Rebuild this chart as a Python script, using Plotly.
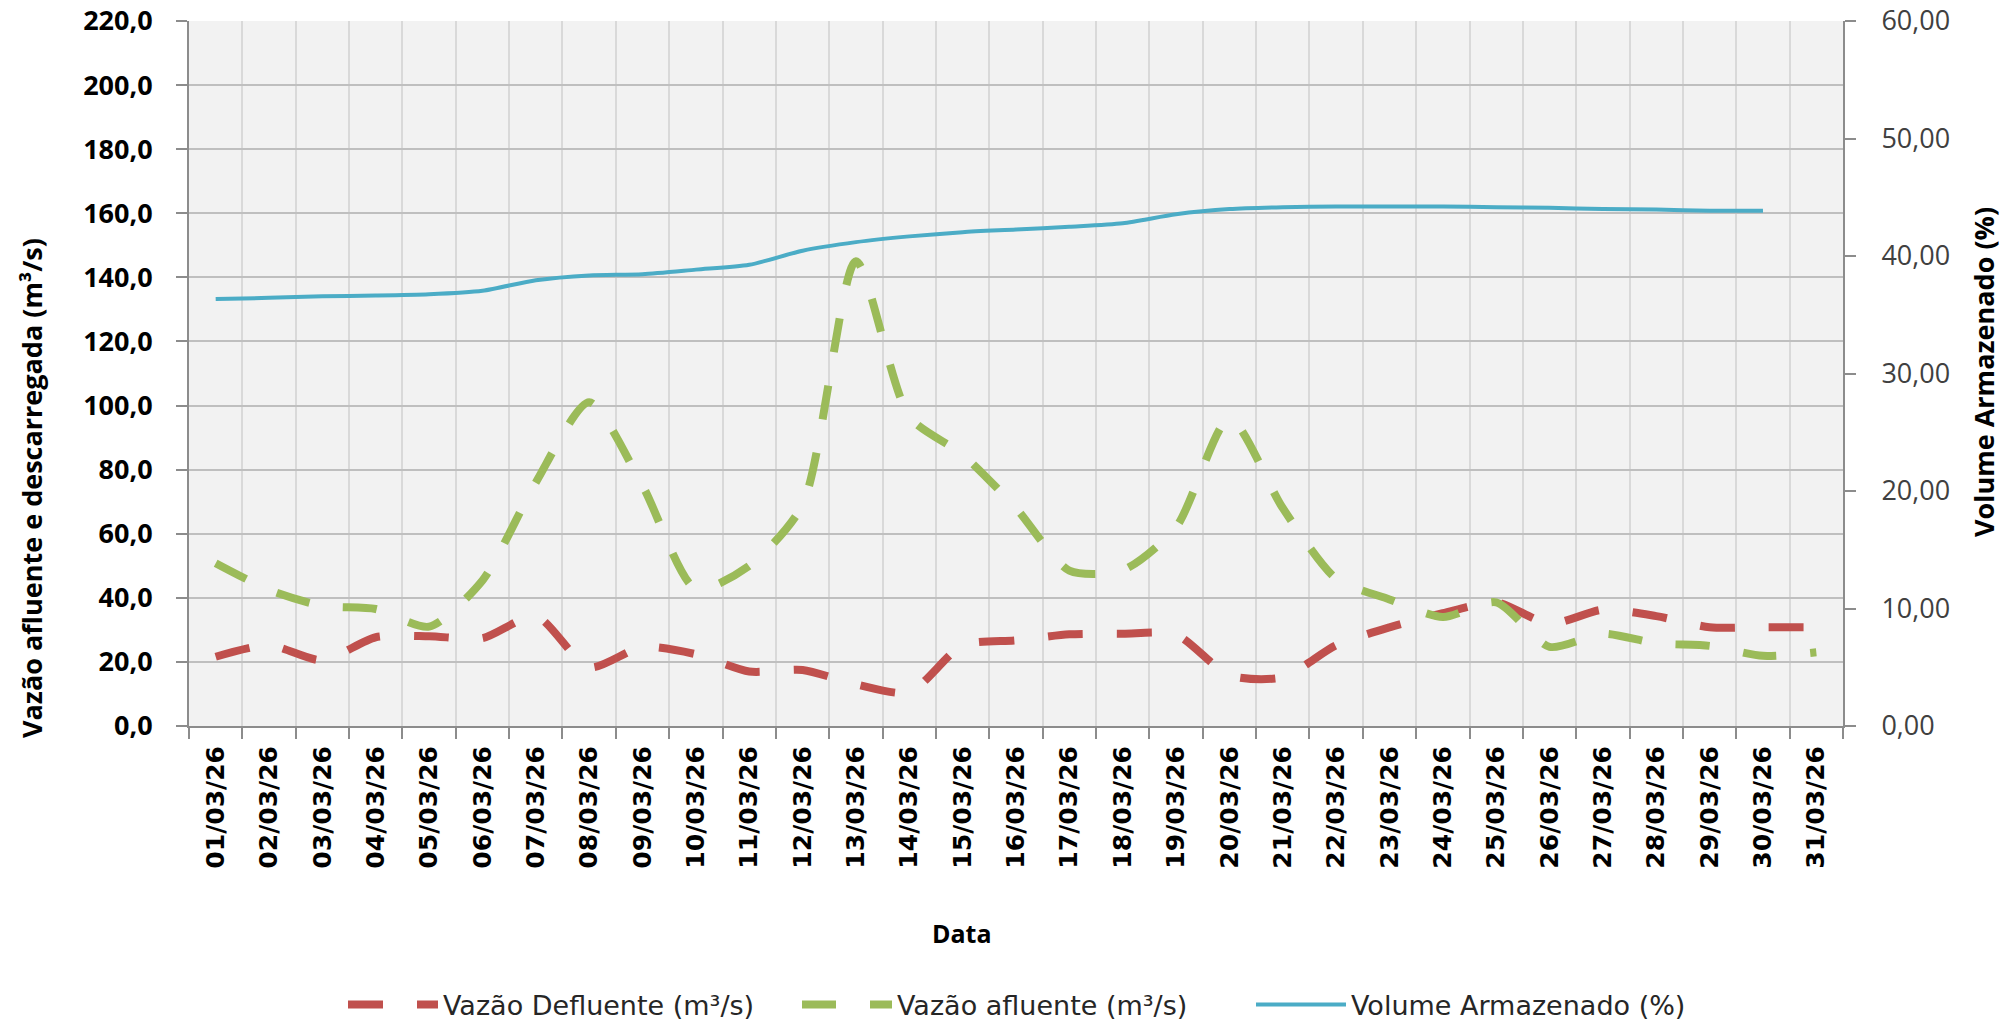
import plotly.graph_objects as go

# ---- data ----
datas = ["01/03/26", "02/03/26", "03/03/26", "04/03/26", "05/03/26", "06/03/26",
         "07/03/26", "08/03/26", "09/03/26", "10/03/26", "11/03/26", "12/03/26",
         "13/03/26", "14/03/26", "15/03/26", "16/03/26", "17/03/26", "18/03/26",
         "19/03/26", "20/03/26", "21/03/26", "22/03/26", "23/03/26", "24/03/26",
         "25/03/26", "26/03/26", "27/03/26", "28/03/26", "29/03/26", "30/03/26",
         "31/03/26"]

vazao_defluente = [21.6, 25.2, 20.5, 27.7, 28.0, 27.4, 34.3, 18.3, 24.7, 22.4,
                   17.0, 17.5, 13.0, 10.5, 25.2, 26.7, 28.6, 28.8, 28.5, 15.8,
                   15.2, 25.2, 30.8, 35.2, 38.6, 31.9, 36.3, 34.3, 30.8, 30.8,
                   30.8]

vazao_afluente = [50.8, 42.5, 37.5, 36.5, 31.0, 45.4, 76.0, 101.0, 75.0, 42.8,
                  50.0, 69.0, 145.0, 96.5, 84.7, 68.0, 48.5, 48.6, 62.0, 96.0,
                  68.0, 46.0, 39.5, 34.0, 38.6, 24.7, 28.8, 25.8, 25.0, 21.9,
                  23.0]

volume_armazenado = [36.33, 36.44, 36.57, 36.63, 36.74, 37.04, 37.94, 38.35,
                     38.45, 38.84, 39.25, 40.45, 41.18, 41.67, 42.03, 42.25,
                     42.49, 42.79, 43.55, 43.99, 44.15, 44.21, 44.21, 44.21,
                     44.15, 44.10, 43.99, 43.96, 43.85, 43.85]

left_ticks = [0, 20, 40, 60, 80, 100, 120, 140, 160, 180, 200, 220]
right_ticks = [0, 10, 20, 30, 40, 50, 60]

# ---- styling ----
RED = "#C0504D"
GREEN = "#9BBB59"
BLUE = "#4BACC6"
W, H = 2012, 1020
ML, MR, MT, MB = 189, 169, 21, 294
PW = W - ML - MR
PH = H - MT - MB


def px_to_paper(px, py):
    return (px - ML) / PW, (H - MB - py) / PH


fig = go.Figure()
fig.add_trace(go.Scatter(
    x=datas, y=vazao_defluente, name="Vazão Defluente (m³/s)", mode="lines",
    line=dict(color=RED, width=8, dash="35px,34px", shape="spline", smoothing=0.7),
    yaxis="y"))
fig.add_trace(go.Scatter(
    x=datas, y=vazao_afluente, name="Vazão afluente (m³/s)", mode="lines",
    line=dict(color=GREEN, width=8, dash="34px,34px", shape="spline", smoothing=0.7),
    yaxis="y"))
fig.add_trace(go.Scatter(
    x=datas[:len(volume_armazenado)], y=volume_armazenado,
    name="Volume Armazenado (%)", mode="lines",
    line=dict(color=BLUE, width=4, shape="spline", smoothing=0.7),
    yaxis="y2"))

axis_line = "#8c8c8c"

lx, ly = px_to_paper(32, 488)
rx, ry = px_to_paper(1983, 372)
dx, dy = px_to_paper(962, 933)

fig.update_layout(
    width=W, height=H,
    margin=dict(l=ML, r=MR, t=MT, b=MB, pad=0, autoexpand=False),
    paper_bgcolor="white",
    plot_bgcolor="#F2F2F2",
    separators=",.",
    showlegend=True,
    legend=dict(
        orientation="h", x=px_to_paper(343, 0)[0], xanchor="left",
        y=px_to_paper(0, 1005)[1], yanchor="middle",
        font=dict(family="DejaVu Sans", size=27, color="#262626"),
        itemwidth=90, entrywidth=349, entrywidthmode="pixels",
        bgcolor="rgba(0,0,0,0)",
    ),
    xaxis=dict(
        type="category", range=[-0.5, 30.5], tickson="boundaries",
        showgrid=True, gridcolor="#D9D9D9", gridwidth=2,
        showline=True, linecolor=axis_line, linewidth=2,
        ticks="outside", ticklen=11, tickcolor=axis_line, tickwidth=2,
        tickangle=-90, automargin=False,
        tickfont=dict(family="DejaVu Sans", size=25, color="black", weight="bold"),
        ticklabelstandoff=8,
    ),
    yaxis=dict(
        range=[0, 220], tickvals=left_ticks, tickformat=".1f",
        showgrid=True, gridcolor="#BFBFBF", gridwidth=2,
        showline=True, linecolor=axis_line, linewidth=2, automargin=False,
        ticks="outside", ticklen=11, tickcolor=axis_line, tickwidth=2,
        tickfont=dict(family="Open Sans", size=27, color="black", weight="bold"),
        ticklabelstandoff=18, zeroline=False, ticklabeloverflow="allow",
    ),
    yaxis2=dict(
        range=[0, 60], tickvals=right_ticks, tickformat=".2f",
        overlaying="y", side="right", showgrid=False,
        showline=True, linecolor=axis_line, linewidth=2, automargin=False,
        ticks="outside", ticklen=11, tickcolor=axis_line, tickwidth=2,
        tickfont=dict(family="Open Sans", size=27, color="#404040"),
        ticklabelstandoff=20, zeroline=False, ticklabeloverflow="allow",
    ),
    annotations=[
        dict(text="Vazão afluente e descarregada (m³/s)", x=lx, y=ly,
             xref="paper", yref="paper", showarrow=False, textangle=-90,
             xanchor="center", yanchor="middle",
             font=dict(family="Open Sans", size=27, color="black", weight="bold")),
        dict(text="Volume Armazenado (%)", x=rx, y=ry,
             xref="paper", yref="paper", showarrow=False, textangle=-90,
             xanchor="center", yanchor="middle",
             font=dict(family="Open Sans", size=27, color="black", weight="bold")),
        dict(text="Data", x=dx, y=dy,
             xref="paper", yref="paper", showarrow=False,
             xanchor="center", yanchor="middle",
             font=dict(family="Open Sans", size=25, color="black", weight="bold")),
    ],
)

fig.write_html("out.html", config={"displayModeBar": False},
               post_script="document.body.style.margin='0';")
